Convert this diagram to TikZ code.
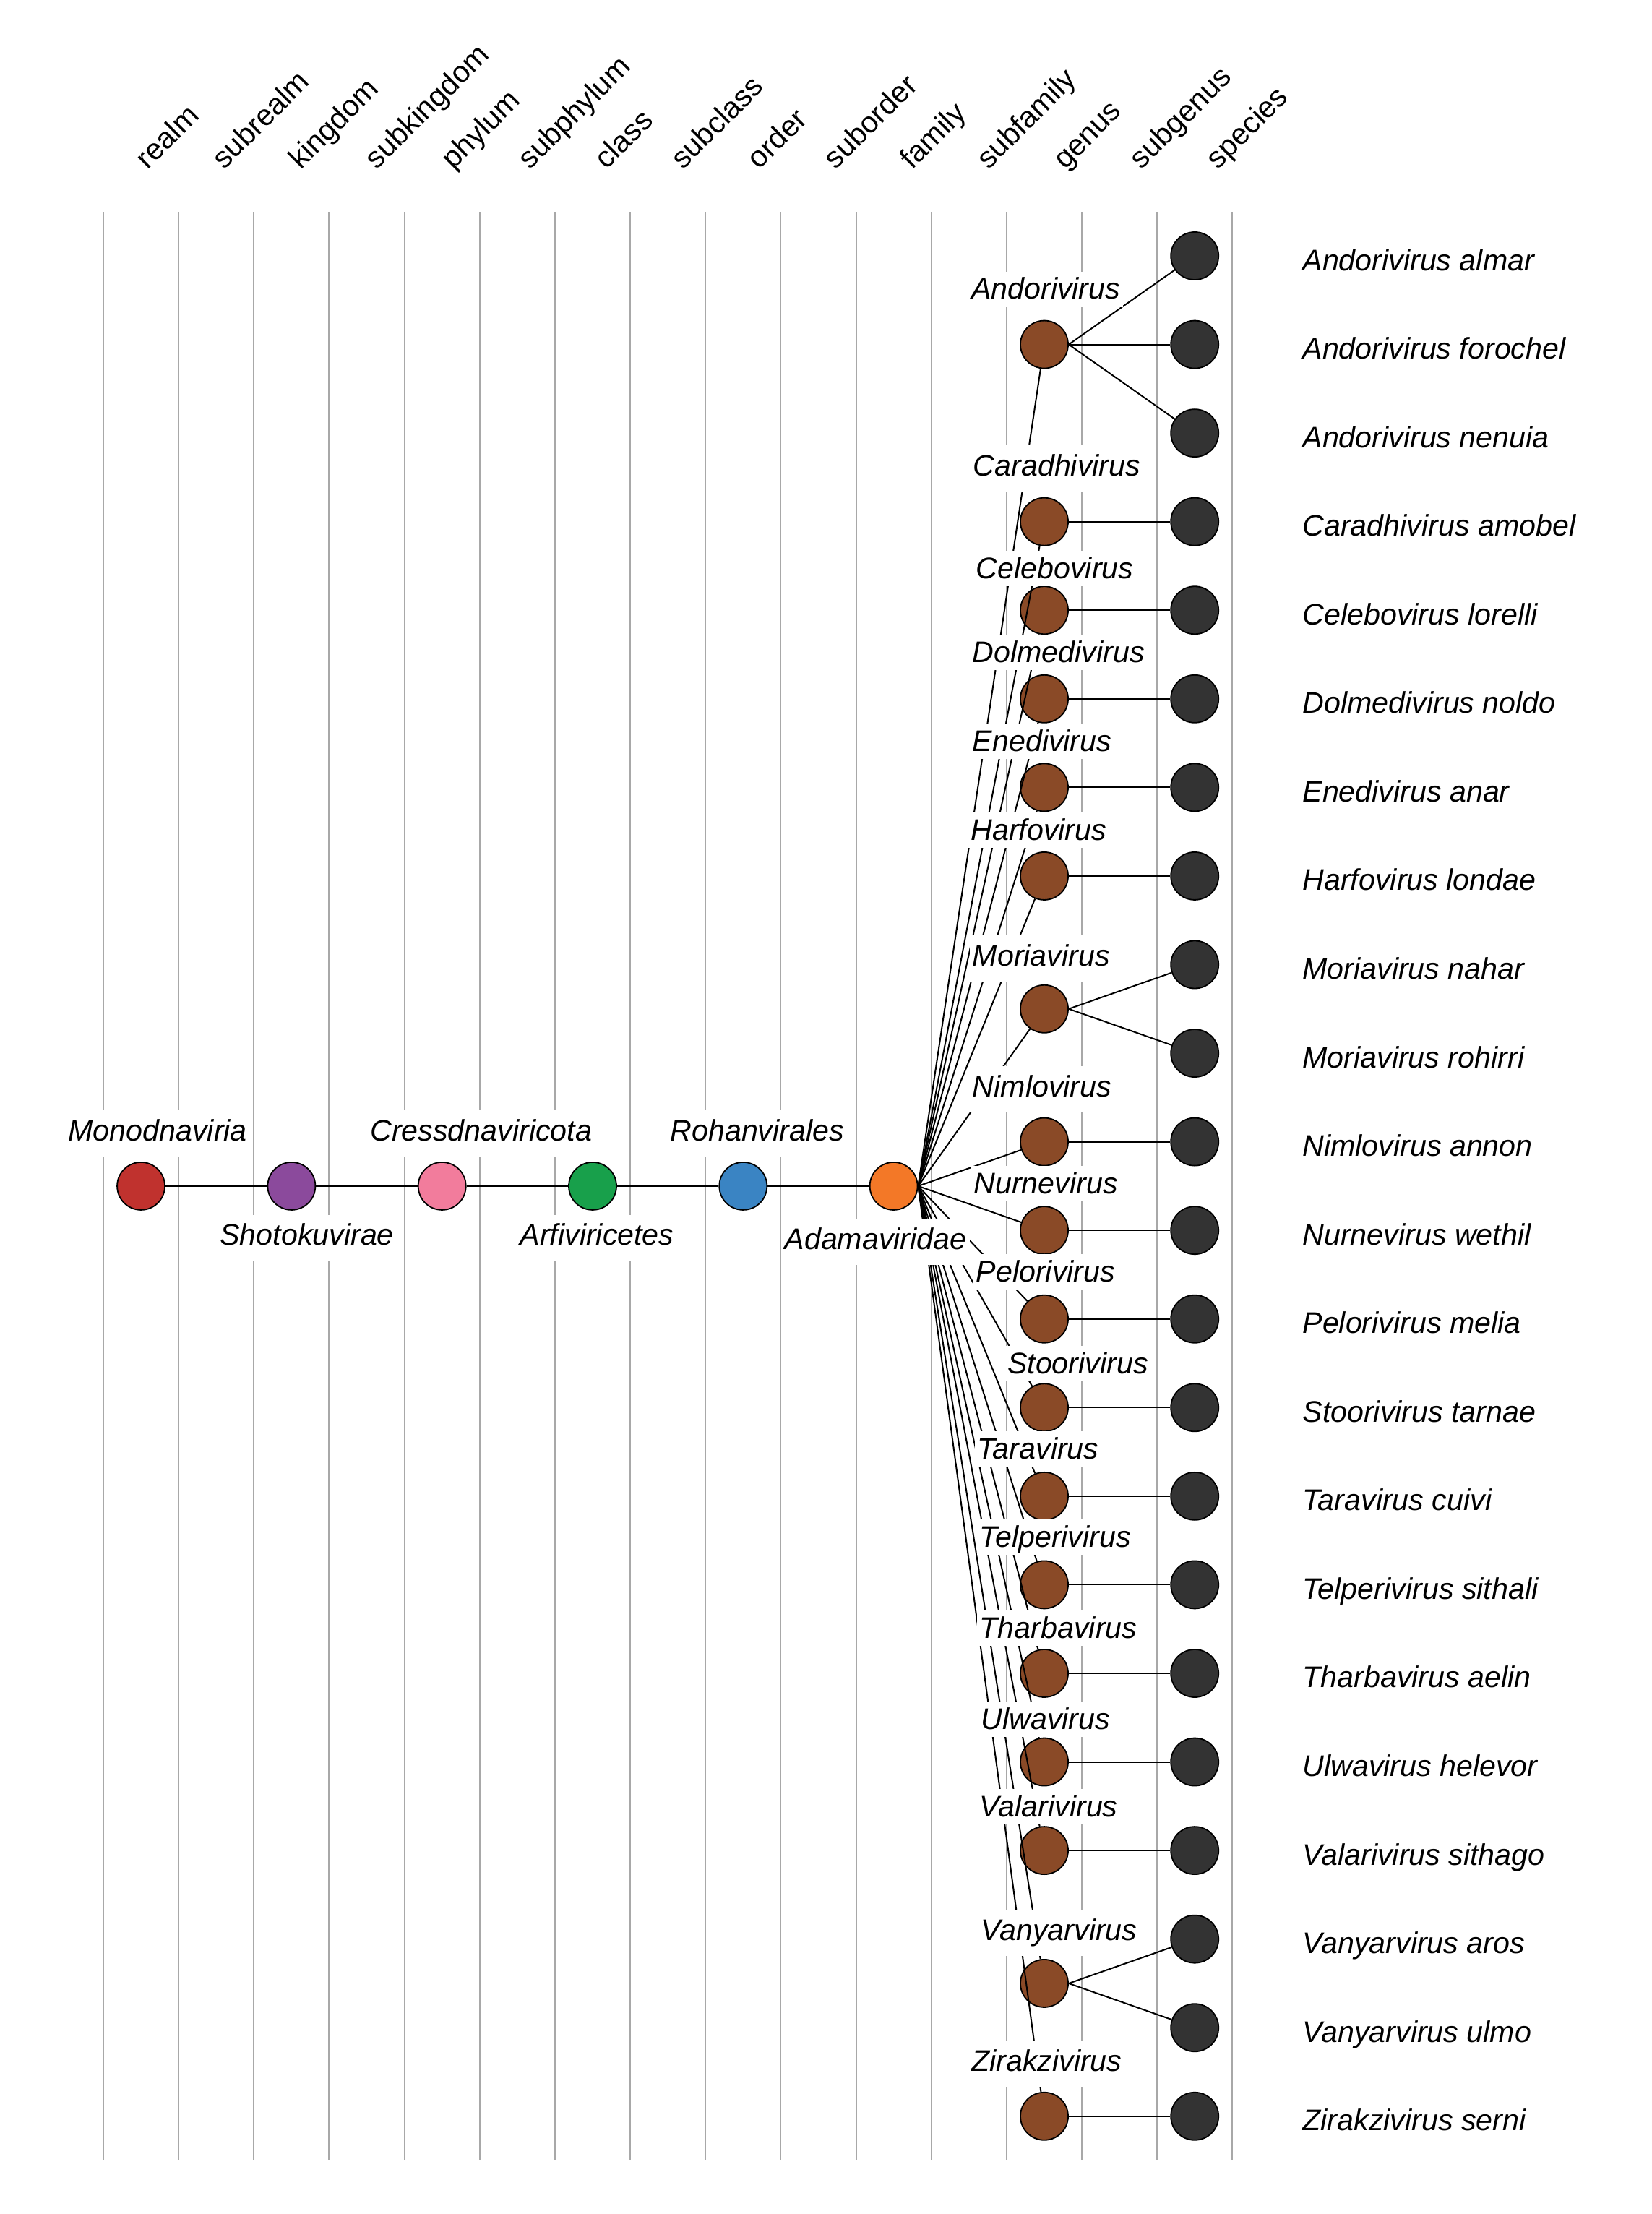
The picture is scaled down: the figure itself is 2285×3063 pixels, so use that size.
\documentclass[tikz,border=0pt]{standalone}
\usepackage{fontspec}
\setmainfont{Liberation Sans}
\usetikzlibrary{positioning}
\definecolor{gridgray}{RGB}{168,168,168}
\definecolor{realmred}{RGB}{192,50,46}
\definecolor{kingdompurple}{RGB}{139,74,156}
\definecolor{phylumpink}{RGB}{242,124,156}
\definecolor{classgreen}{RGB}{24,160,75}
\definecolor{orderblue}{RGB}{58,132,195}
\definecolor{familyorange}{RGB}{243,120,39}
\definecolor{genusbrown}{RGB}{138,74,39}
\definecolor{speciesgray}{RGB}{51,51,51}
\newcommand{\genuslist}{andorivirus/1,caradhivirus/3,celebovirus/4,dolmedivirus/5,enedivirus/6,harfovirus/7,moriavirus/8.5,nimlovirus/10,nurnevirus/11,pelorivirus/12,stoorivirus/13,taravirus/14,telperivirus/15,tharbavirus/16,ulwavirus/17,valarivirus/18,vanyarvirus/19.5,zirakzivirus/21}

\begin{document}
\begin{tikzpicture}[x=0.25pt,y=-0.25pt,
    rank/.style={circle,draw=black,line width=0.45pt,minimum size=16.5pt,inner sep=0pt},
    taxon/.style={font=\fontsize{10.3}{12}\selectfont\itshape,fill=white,anchor=base west,
      inner xsep=1pt,inner ysep=3.25pt,text height=7.25pt,text depth=2.25pt},
    roomy/.style={},
    squeezed/.style={inner ysep=2.25pt,text depth=0.5pt},
    heading/.style={font=\fontsize{10.3}{12}\selectfont,rotate=45,anchor=base west,inner sep=0pt},
    gridline/.style={draw=gridgray,line width=0.5pt},
    link/.style={draw=black,line width=0.5pt}]

  \useasboundingbox (0,0) rectangle (2285,3063);

  % rank columns
  \foreach \i in {0,...,15}
    \draw[gridline] ({143+104.15*\i},293) -- ({143+104.15*\i},2988);
  \foreach \r [count=\i from 0] in {realm,subrealm,kingdom,subkingdom,phylum,subphylum,class,subclass,order,suborder,family,subfamily,genus,subgenus,species}
    \node[heading] (h-\r) at ({204+105.8*\i},236) {\r};

  % upper ranks
  \node[rank,fill=realmred]      (monodnaviria)     at (195.1,1640.9) {};
  \node[rank,fill=kingdompurple] (shotokuvirae)     at (403.4,1640.9) {};
  \node[rank,fill=phylumpink]    (cressdnaviricota) at (611.7,1640.9) {};
  \node[rank,fill=classgreen]    (arfiviricetes)    at (820.0,1640.9) {};
  \node[rank,fill=orderblue]     (rohanvirales)     at (1028.3,1640.9) {};
  \node[rank,fill=familyorange]  (adamaviridae)     at (1236.6,1640.9) {};

  % genera
  \foreach \g/\row in \genuslist
    \node[rank,fill=genusbrown] (\g) at (1445,{354+122.56*\row}) {};

  % species with their names
  \foreach \row/\txt in {0/Andorivirus almar,1/Andorivirus forochel,2/Andorivirus nenuia,3/Caradhivirus amobel,
      4/Celebovirus lorelli,5/Dolmedivirus noldo,6/Enedivirus anar,7/Harfovirus londae,8/Moriavirus nahar,
      9/Moriavirus rohirri,10/Nimlovirus annon,11/Nurnevirus wethil,12/Pelorivirus melia,13/Stoorivirus tarnae,
      14/Taravirus cuivi,15/Telperivirus sithali,16/Tharbavirus aelin,17/Ulwavirus helevor,18/Valarivirus sithago,
      19/Vanyarvirus aros,20/Vanyarvirus ulmo,21/Zirakzivirus serni} {
    \node[rank,fill=speciesgray] (s\row) at (1653.2,{354+122.56*\row}) {};
    \node[taxon] (l-s\row) at (1797.7,{374+122.56*\row}) {\txt};
  }

  % links
  \draw[link] (monodnaviria.east) -- (shotokuvirae);
  \draw[link] (shotokuvirae.east) -- (cressdnaviricota);
  \draw[link] (cressdnaviricota.east) -- (arfiviricetes);
  \draw[link] (arfiviricetes.east) -- (rohanvirales);
  \draw[link] (rohanvirales.east) -- (adamaviridae);
  \foreach \g/\row in \genuslist
    \draw[link] (adamaviridae.east) -- (\g);
  \foreach \g/\s in {andorivirus/0,andorivirus/1,andorivirus/2,caradhivirus/3,celebovirus/4,dolmedivirus/5,
      enedivirus/6,harfovirus/7,moriavirus/8,moriavirus/9,nimlovirus/10,nurnevirus/11,pelorivirus/12,
      stoorivirus/13,taravirus/14,telperivirus/15,tharbavirus/16,ulwavirus/17,valarivirus/18,
      vanyarvirus/19,vanyarvirus/20,zirakzivirus/21}
    \draw[link] (\g.east) -- (s\s);

  % names of the upper ranks
  \node[taxon] (l-monodnaviria)     at (89.8,1578)    {Monodnaviria};
  \node[taxon] (l-shotokuvirae)     at (299.6,1722.7) {Shotokuvirae};
  \node[taxon] (l-cressdnaviricota) at (507.6,1578)   {Cressdnaviricota};
  \node[taxon] (l-arfiviricetes)    at (714.8,1722.7) {Arfiviricetes};
  \node[taxon] (l-rohanvirales)     at (922.8,1578)   {Rohanvirales};
  \node[taxon] (l-adamaviridae)     at (1080.8,1728)  {Adamaviridae};

  % names of the genera
  \foreach \g/\txt/\lx/\ly/\fit in {andorivirus/Andorivirus/1339.3/413.5/squeezed,caradhivirus/Caradhivirus/1342/658/roomy,
      celebovirus/Celebovirus/1346/800/squeezed,dolmedivirus/Dolmedivirus/1341/916/squeezed,
      enedivirus/Enedivirus/1341/1039/squeezed,harfovirus/Harfovirus/1338.7/1162/squeezed,
      moriavirus/Moriavirus/1341/1336/roomy,nimlovirus/Nimlovirus/1341/1517/roomy,
      nurnevirus/Nurnevirus/1342.7/1651/squeezed,pelorivirus/Pelorivirus/1346/1773/squeezed,
      stoorivirus/Stoorivirus/1389.3/1900/squeezed,taravirus/Taravirus/1347.7/2018/squeezed,
      telperivirus/Telperivirus/1351/2140/squeezed,tharbavirus/Tharbavirus/1351/2266/squeezed,
      ulwavirus/Ulwavirus/1352.7/2392/squeezed,valarivirus/Valarivirus/1351/2513/squeezed,
      vanyarvirus/Vanyarvirus/1352.7/2684/roomy,zirakzivirus/Zirakzivirus/1339.3/2865/roomy}
    \node[taxon,\fit] (l-\g) at (\lx,\ly) {\txt};
\end{tikzpicture}
\end{document}
